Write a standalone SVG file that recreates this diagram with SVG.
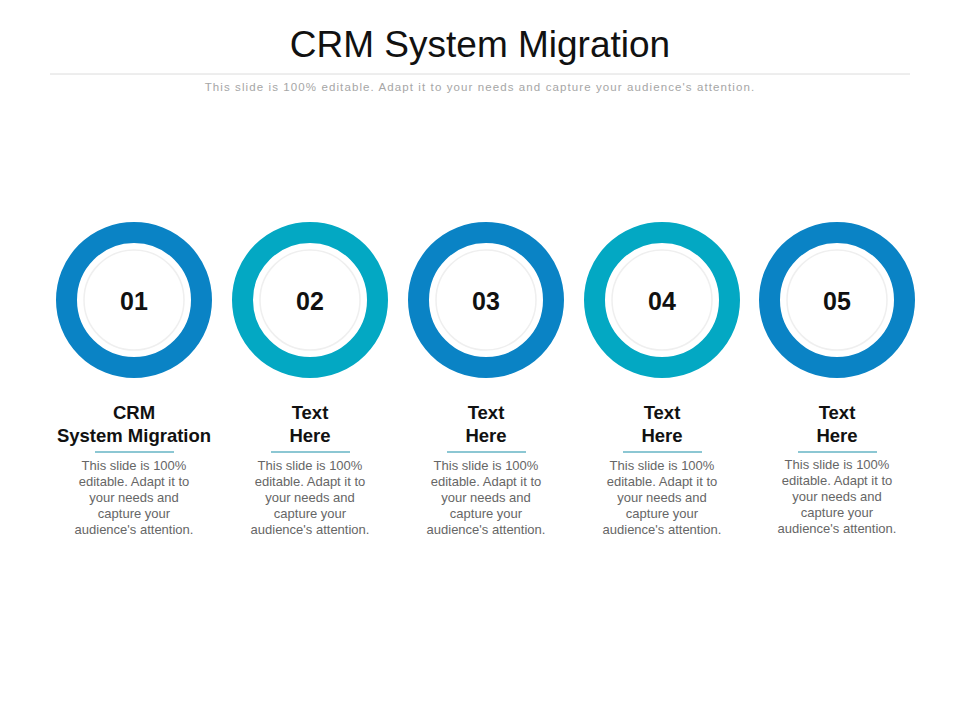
<svg xmlns="http://www.w3.org/2000/svg" width="960" height="720" viewBox="0 0 960 720">
<style>
.title{font-family:"Liberation Sans",Arial,sans-serif;font-size:37px;fill:#111;text-anchor:middle}
.sub{font-family:"Liberation Sans",Arial,sans-serif;font-size:11.5px;fill:#a6a6a6;text-anchor:middle;letter-spacing:1.1px}
.num{font-family:"Liberation Sans",Arial,sans-serif;font-size:25px;font-weight:bold;fill:#111;text-anchor:middle}
.head{font-family:"Liberation Sans",Arial,sans-serif;font-size:18.5px;font-weight:bold;fill:#111;text-anchor:middle}
.body{font-family:"Liberation Sans",Arial,sans-serif;font-size:13px;fill:#666;text-anchor:middle}
.ringA{fill:none;stroke:#0A83C5;stroke-width:21}
.ringB{fill:none;stroke:#03A8C3;stroke-width:21}
.inner{fill:#fff;stroke:#efefef;stroke-width:1.5}
.ul{stroke:#1a8fa8;stroke-width:1.2}
</style>
<rect width="960" height="720" fill="#fff"/>
<text class="title" x="480" y="57">CRM System Migration</text>
<line x1="50" y1="74" x2="910" y2="74" stroke="#dcdcdc" stroke-width="1"/>
<text class="sub" x="480" y="91">This slide is 100% editable. Adapt it to your needs and capture your audience's attention.</text>
<g id="node1">
<circle class="ringA" cx="134" cy="300" r="67.5"/>
<circle class="inner" cx="134" cy="300" r="50"/>
<text class="num" x="134" y="310">01</text>
<text class="head" x="134" y="419">CRM</text>
<text class="head" x="134" y="442">System Migration</text>
<line class="ul" x1="95" y1="452" x2="174" y2="452"/>
<text class="body" x="134" y="470">This slide is 100%</text>
<text class="body" x="134" y="486">editable. Adapt it to</text>
<text class="body" x="134" y="502">your needs and</text>
<text class="body" x="134" y="518">capture your</text>
<text class="body" x="134" y="534">audience's attention.</text>
</g>
<g id="node2">
<circle class="ringB" cx="310" cy="300" r="67.5"/>
<circle class="inner" cx="310" cy="300" r="50"/>
<text class="num" x="310" y="310">02</text>
<text class="head" x="310" y="419">Text</text>
<text class="head" x="310" y="442">Here</text>
<line class="ul" x1="271" y1="452" x2="350" y2="452"/>
<text class="body" x="310" y="470">This slide is 100%</text>
<text class="body" x="310" y="486">editable. Adapt it to</text>
<text class="body" x="310" y="502">your needs and</text>
<text class="body" x="310" y="518">capture your</text>
<text class="body" x="310" y="534">audience's attention.</text>
</g>
<g id="node3">
<circle class="ringA" cx="486" cy="300" r="67.5"/>
<circle class="inner" cx="486" cy="300" r="50"/>
<text class="num" x="486" y="310">03</text>
<text class="head" x="486" y="419">Text</text>
<text class="head" x="486" y="442">Here</text>
<line class="ul" x1="447" y1="452" x2="526" y2="452"/>
<text class="body" x="486" y="470">This slide is 100%</text>
<text class="body" x="486" y="486">editable. Adapt it to</text>
<text class="body" x="486" y="502">your needs and</text>
<text class="body" x="486" y="518">capture your</text>
<text class="body" x="486" y="534">audience's attention.</text>
</g>
<g id="node4">
<circle class="ringB" cx="662" cy="300" r="67.5"/>
<circle class="inner" cx="662" cy="300" r="50"/>
<text class="num" x="662" y="310">04</text>
<text class="head" x="662" y="419">Text</text>
<text class="head" x="662" y="442">Here</text>
<line class="ul" x1="623" y1="452" x2="702" y2="452"/>
<text class="body" x="662" y="470">This slide is 100%</text>
<text class="body" x="662" y="486">editable. Adapt it to</text>
<text class="body" x="662" y="502">your needs and</text>
<text class="body" x="662" y="518">capture your</text>
<text class="body" x="662" y="534">audience's attention.</text>
</g>
<g id="node5">
<circle class="ringA" cx="837" cy="300" r="67.5"/>
<circle class="inner" cx="837" cy="300" r="50"/>
<text class="num" x="837" y="310">05</text>
<text class="head" x="837" y="419">Text</text>
<text class="head" x="837" y="442">Here</text>
<line class="ul" x1="798" y1="452" x2="877" y2="452"/>
<text class="body" x="837" y="469">This slide is 100%</text>
<text class="body" x="837" y="485">editable. Adapt it to</text>
<text class="body" x="837" y="501">your needs and</text>
<text class="body" x="837" y="517">capture your</text>
<text class="body" x="837" y="533">audience's attention.</text>
</g>
<g id="connectors"></g>
</svg>
